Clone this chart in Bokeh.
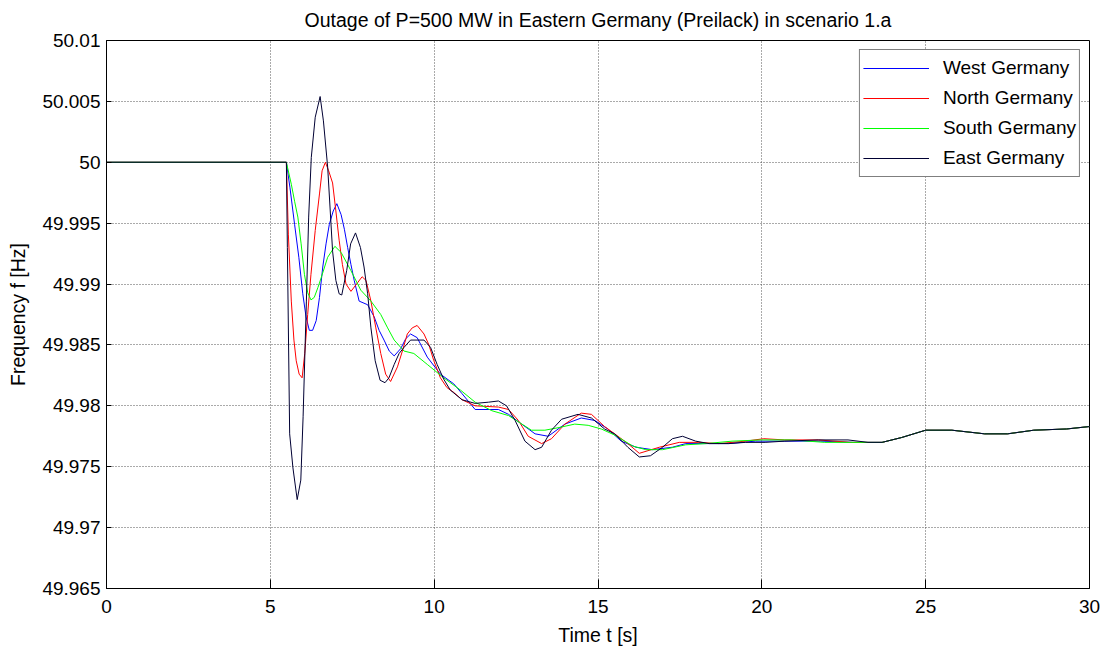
from bokeh.plotting import figure
from bokeh.models import FixedTicker, Legend, LegendItem, Range1d, CustomJSTickFormatter
from bokeh.embed import file_html
from bokeh.resources import INLINE

FONT = "Liberation Sans"
FS = "19px"
FS_LABEL = "19.5px"

# ---------------- data ----------------
title_text = "Outage of P=500 MW in Eastern Germany (Preilack) in scenario 1.a"
x_label = "Time t [s]"
y_label = "Frequency f [Hz]"

x_ticks = [0, 5, 10, 15, 20, 25, 30]
x_tick_labels = ["0", "5", "10", "15", "20", "25", "30"]
y_ticks = [49.965, 49.97, 49.975, 49.98, 49.985, 49.99, 49.995, 50.0, 50.005, 50.01]
y_tick_labels = ["49.965", "49.97", "49.975", "49.98", "49.985", "49.99", "49.995",
                 "50", "50.005", "50.01"]

series_names = ["West Germany", "North Germany", "South Germany", "East Germany"]
series_colors = ["#0000FF", "#FF0000", "#00FF00", "#000033"]

t_west = [0, 5.49, 5.6, 5.74, 5.87, 5.99, 6.09, 6.19, 6.29, 6.4,
          6.5, 6.6, 6.7, 6.8, 6.92, 7.03, 7.16, 7.26, 7.36, 7.46,
          7.56, 7.71, 7.97, 8.17, 8.32, 8.47, 8.63, 8.78, 8.98, 9.13,
          9.28, 9.48, 9.79, 10.19, 10.6, 10.85, 11.25, 11.96, 12.27, 12.67,
          13.08, 13.48, 13.99, 14.49, 14.9, 15.3, 15.71, 16.16, 16.66, 17.27,
          17.68, 18.3, 19.0, 19.8, 20.8, 21.8, 22.8, 23.67, 24.27, 25.0,
          25.8, 26.8, 27.5, 28.3, 29.3, 30.0]
f_west = [50.0, 50.0, 49.9979, 49.9949, 49.9922, 49.9892, 49.9873, 49.9862, 49.9862, 49.987,
          49.9889, 49.9914, 49.9933, 49.9949, 49.996, 49.9966, 49.9957, 49.9945, 49.993, 49.9916,
          49.9903, 49.9886, 49.9883, 49.9873, 49.9862, 49.9854, 49.9845, 49.9841, 49.9847, 49.9855,
          49.9859, 49.9856, 49.984, 49.9826, 49.9818, 49.981, 49.9797, 49.9797, 49.9793, 49.9785,
          49.9777, 49.9775, 49.9785, 49.979, 49.9788, 49.9781, 49.9771, 49.9766, 49.9764, 49.9766,
          49.9769, 49.9769, 49.9769, 49.9771, 49.9771, 49.9771, 49.977, 49.977, 49.9774, 49.978,
          49.978, 49.9777, 49.9777, 49.978, 49.9781, 49.9783]

t_north = [0, 5.49, 5.55, 5.64, 5.72, 5.79, 5.88, 5.97, 6.05, 6.14,
           6.24, 6.37, 6.5, 6.58, 6.68, 6.78, 6.9, 7.0, 7.1, 7.2,
           7.31, 7.46, 7.66, 7.8, 7.92, 8.07, 8.22, 8.37, 8.52, 8.67,
           8.88, 9.03, 9.18, 9.33, 9.48, 9.69, 9.84, 9.99, 10.19, 10.39,
           10.6, 10.85, 11.25, 11.96, 12.27, 12.57, 12.87, 13.28, 13.58, 13.99,
           14.49, 14.8, 15.2, 15.51, 15.91, 16.26, 16.87, 17.48, 18.08, 18.69,
           19.5, 20.06, 20.7, 21.72, 22.7, 23.67, 24.27, 25.0, 25.8, 26.8,
           27.5, 28.3, 29.3, 30.0]
f_north = [50.0, 50.0, 49.9941, 49.9886, 49.9854, 49.9837, 49.9826, 49.9823, 49.9843, 49.9875,
           49.9908, 49.9944, 49.9974, 49.9993, 50.0, 49.9993, 49.9983, 49.996, 49.9936, 49.9916,
           49.99, 49.9894, 49.9901, 49.9906, 49.9903, 49.9886, 49.9864, 49.9843, 49.9826, 49.982,
           49.9832, 49.9845, 49.9859, 49.9864, 49.9866, 49.9859, 49.985, 49.9837, 49.9823, 49.9815,
           49.9811, 49.9805, 49.98, 49.9799, 49.9797, 49.9788, 49.9775, 49.9769, 49.9773, 49.9785,
           49.9794, 49.9793, 49.9783, 49.9777, 49.9769, 49.9761, 49.9766, 49.977, 49.977, 49.9769,
           49.9771, 49.9773, 49.9772, 49.9772, 49.977, 49.977, 49.9774, 49.978, 49.978, 49.9777,
           49.9777, 49.978, 49.9781, 49.9783]

t_south = [0, 5.49, 5.64, 5.74, 5.84, 5.94, 6.04, 6.14, 6.24, 6.34,
           6.45, 6.55, 6.75, 6.97, 7.16, 7.46, 7.76, 8.07, 8.37, 8.58,
           8.78, 9.08, 9.38, 9.79, 10.29, 10.8, 11.25, 11.76, 12.27, 12.97,
           13.38, 13.78, 14.29, 14.7, 15.1, 15.51, 16.06, 16.46, 16.97, 17.68,
           18.3, 19.09, 20.0, 20.9, 21.92, 22.7, 23.67, 24.27, 25.0, 25.8,
           26.8, 27.5, 28.3, 29.3, 30.0]
f_south = [50.0, 50.0, 49.9982, 49.9968, 49.9955, 49.9933, 49.9908, 49.9893, 49.9887, 49.9889,
           49.9897, 49.9905, 49.9922, 49.9931, 49.9926, 49.9911, 49.9895, 49.9886, 49.9875, 49.9864,
           49.9854, 49.9845, 49.9843, 49.9834, 49.9823, 49.9813, 49.9803, 49.9796, 49.9792, 49.978,
           49.978, 49.9782, 49.9785, 49.9784, 49.9781, 49.9776, 49.9767, 49.9764, 49.9764, 49.9768,
           49.9769, 49.9771, 49.9772, 49.9772, 49.977, 49.977, 49.977, 49.9774, 49.978, 49.978,
           49.9777, 49.9777, 49.978, 49.9781, 49.9783]

t_east = [0, 5.49, 5.52, 5.59, 5.69, 5.82, 5.93, 6.0, 6.1, 6.17,
          6.25, 6.37, 6.52, 6.62, 6.75, 6.9, 7.0, 7.1, 7.18, 7.33,
          7.45, 7.6, 7.75, 7.86, 7.97, 8.07, 8.2, 8.35, 8.5, 8.62,
          8.78, 8.93, 9.08, 9.28, 9.69, 9.89, 10.09, 10.29, 10.49, 10.85,
          11.25, 11.66, 11.96, 12.21, 12.47, 12.77, 13.08, 13.28, 13.58, 13.89,
          14.39, 14.8, 15.2, 15.51, 15.91, 16.26, 16.6, 16.97, 17.27, 17.58,
          17.98, 18.39, 18.99, 19.5, 20.1, 20.7, 21.72, 22.63, 23.24, 23.67,
          24.27, 25.0, 25.8, 26.8, 27.5, 28.3, 29.3, 30.0]
f_east = [50.0, 50.0, 49.993, 49.9777, 49.9749, 49.9723, 49.9739, 49.9791, 49.9886, 49.9955,
          50.0004, 50.0037, 50.0054, 50.0034, 49.9996, 49.9927, 49.9903, 49.9892, 49.9891, 49.9911,
          49.9933, 49.9942, 49.993, 49.9914, 49.9892, 49.9864, 49.9837, 49.9821, 49.9819, 49.9823,
          49.9834, 49.9843, 49.9848, 49.9854, 49.9854, 49.9848, 49.9834, 49.9822, 49.9813, 49.9805,
          49.9802, 49.9803, 49.9804, 49.98, 49.9788, 49.9771, 49.9764, 49.9766, 49.978, 49.9789,
          49.9793, 49.979, 49.9781, 49.9777, 49.9766, 49.9758, 49.9759, 49.9766, 49.9773, 49.9775,
          49.9771, 49.9769, 49.9769, 49.977, 49.977, 49.9771, 49.9772, 49.9772, 49.977, 49.977,
          49.9774, 49.978, 49.978, 49.9777, 49.9777, 49.978, 49.9781, 49.9783]

series_t = [t_west, t_north, t_south, t_east]
series_f = [f_west, f_north, f_south, f_east]

# ---------------- figure ----------------
p = figure(width=1101, height=648,
           x_range=Range1d(0, 30), y_range=Range1d(49.965, 50.01),
           output_backend="svg", toolbar_location=None,
           min_border_left=106, min_border_right=12,
           min_border_top=40, min_border_bottom=60,
           title=title_text)
p.background_fill_color = "white"
p.border_fill_color = "white"
p.outline_line_color = "black"
p.outline_line_width = 1

p.title.align = "center"
p.title.vertical_align = "top"
p.title.text_font = FONT
p.title.text_font_size = FS_LABEL
p.title.text_font_style = "normal"
p.title.text_color = "black"
p.title.standoff = 16

xa = p.xaxis[0]
xa.ticker = FixedTicker(ticks=x_ticks)
xa.major_label_overrides = dict(zip(x_ticks, x_tick_labels))
xa.axis_label = x_label
xa.axis_label_standoff = 8
xa.major_label_standoff = 11

ya = p.yaxis[0]
ya.ticker = FixedTicker(ticks=y_ticks)
ya.formatter = CustomJSTickFormatter(code="return Number(tick.toFixed(3)).toString()")
ya.major_label_overrides = dict(zip(y_ticks, y_tick_labels))
ya.axis_label = y_label
ya.axis_label_standoff = 10
ya.major_label_standoff = 6

for ax, tin in ((xa, 9), (ya, 5)):
    ax.major_label_text_font = FONT
    ax.major_label_text_font_size = FS
    ax.major_label_text_color = "black"
    ax.axis_label_text_font = FONT
    ax.axis_label_text_font_size = FS_LABEL
    ax.axis_label_text_font_style = "normal"
    ax.axis_label_text_color = "black"
    ax.axis_line_color = "black"
    ax.major_tick_line_color = "black"
    ax.major_tick_in = tin
    ax.major_tick_out = 0
    ax.minor_tick_in = 0
    ax.minor_tick_out = 0
    ax.minor_tick_line_color = None

p.grid.grid_line_color = "#555555"
p.grid.grid_line_dash = "1 2"
p.grid.grid_line_width = 1

renderers = []
for t, f, c in zip(series_t, series_f, series_colors):
    renderers.append(p.line(t, f, line_color=c, line_width=1))

legend = Legend(items=[LegendItem(label=n, renderers=[r]) for n, r in zip(series_names, renderers)],
                location="top_right", margin=9, padding=3, spacing=0,
                label_height=30, glyph_height=30, glyph_width=66, label_standoff=14,
                label_text_font=FONT, label_text_font_size=FS, label_text_color="black",
                border_line_color="black", border_line_width=1,
                background_fill_color="white", background_fill_alpha=1)
p.add_layout(legend)

open("out.html", "w").write(file_html(p, INLINE))
